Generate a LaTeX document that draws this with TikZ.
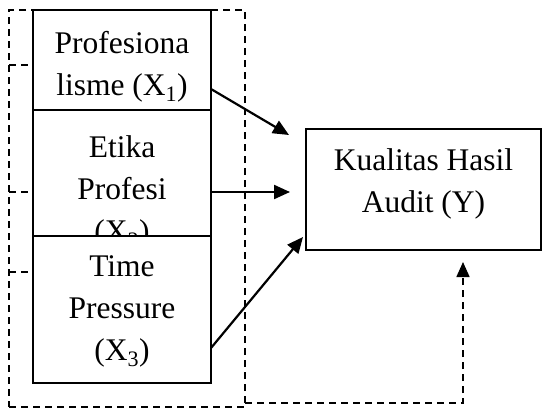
\documentclass[tikz,border=0pt]{standalone}
\usepackage{fontspec}
\setmainfont{Liberation Serif}
\usetikzlibrary{arrows.meta,calc,positioning}
\tikzset{
  var box/.style={
    draw=black,
    fill=white,
    line width=2pt,
    minimum width=178pt,
    inner sep=0pt,
    outer sep=0pt
  },
  var text/.style={
    font=\fontsize{31.5}{42}\selectfont,
    align=center,
    inner sep=0pt
  },
  frame line/.style={
    draw=black,
    dash pattern=on 7pt off 5pt,
    line width=1.6pt
  },
  effect edge/.style={
    -{Triangle[length=16pt,width=14pt]},
    line width=2.2pt
  },
  feedback edge/.style={
    frame line,
    -{Triangle[length=15pt,width=13pt]}
  }
}
\begin{document}
\begin{tikzpicture}[x=1pt,y=-1pt]
  \useasboundingbox (0,0) rectangle (542,410);

  % dashed frame round the three variables
  \node[frame line,minimum width=236pt,minimum height=397pt,
        inner sep=0pt,outer sep=0pt,anchor=north west] (frame) at (9,10) {};

  \node[var box,minimum height=100pt,anchor=north west] (x1) at (33,10) {};
  \node[var text] (x1-text) at ($(x1.north)+(0,57)$) {Profesiona\\lisme (X\textsubscript{1})};
  \node[var box,minimum height=126pt,below=0pt of x1] (x2) {};
  \node[var text] (x2-text) at ($(x2.north)+(0,82)$) {Etika\\Profesi\\(X\textsubscript{2})};
  \node[var box,minimum height=147pt,below=0pt of x2] (x3) {};
  \node[var text] (x3-text) at ($(x3.north)+(0,75)$) {Time\\Pressure\\(X\textsubscript{3})};

  \foreach \ty in {65,192,272}
    \draw[frame line] (frame.west |- 0,\ty) -- (x1.west |- 0,\ty);

  \node[var box,minimum width=235pt,minimum height=121pt,anchor=north west] (y) at (306,129) {};
  \node[var text] (y-text) at ($(y.north)+(0,55)$) {Kualitas Hasil\\Audit (Y)};

  \coordinate (tip1) at ($(y.north west)+(-17,6)$);
  \coordinate (tip2) at ($(y.west)+(-16,2.5)$);
  \coordinate (tip3) at ($(y.south west)+(-3,-13)$);
  \coordinate (tip4) at ($(y.south)+(39.5,12)$);

  \draw[effect edge] ($(x1.south east)+(0,-21)$) -- (tip1);
  \draw[effect edge] (x2.east |- tip2) -- (tip2);
  \draw[effect edge] ($(x3.south east)+(0,-35)$) -- (tip3);
  \draw[feedback edge] ($(frame.south east)+(0,-4)$) -| (tip4);
\end{tikzpicture}
\end{document}
